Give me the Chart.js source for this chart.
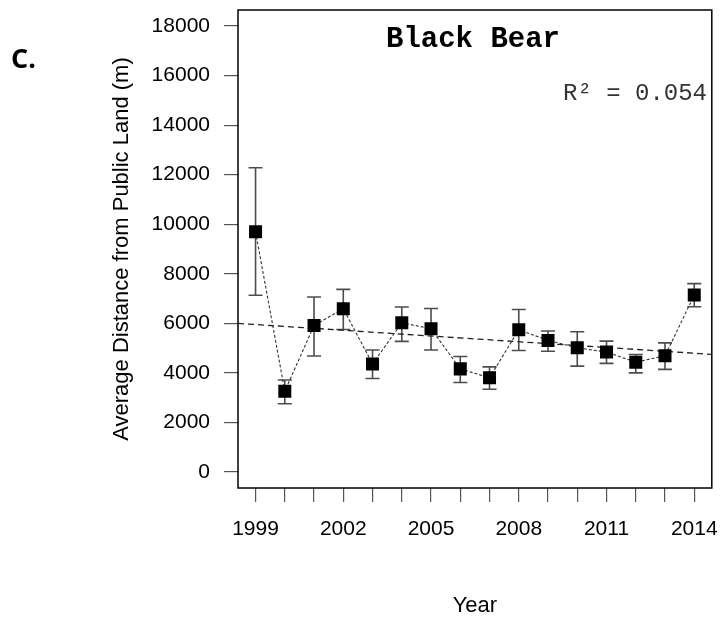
<!DOCTYPE html>
<html>
<head>
<meta charset="utf-8">
<script src="https://cdn.jsdelivr.net/npm/chart.js@4"></script>
<style>
  html, body { margin: 0; padding: 0; background: #fff; }
  #wrap { width: 721px; height: 622px; }
</style>
</head>
<body>
<div id="wrap"><canvas id="chart" width="721" height="622"></canvas></div>
<script>
// data
const years = [1999, 2000, 2001, 2002, 2003, 2004, 2005, 2006, 2007, 2008, 2009, 2010, 2011, 2012, 2013, 2014];
const meanDist = [9700, 3260, 5910, 6590, 4360, 6020, 5780, 4160, 3800, 5740, 5310, 5010, 4840, 4430, 4690, 7140];
const errLow  = [7130, 2750, 4680, 5750, 3770, 5270, 4920, 3610, 3340, 4900, 4870, 4270, 4380, 4000, 4140, 6670];
const errHigh = [12280, 3710, 7060, 7370, 4920, 6660, 6600, 4660, 4240, 6560, 5690, 5660, 5280, 4740, 5210, 7600];
// fitted trend line, ends at the plot edges
const trendYears = [1998.4, 2014.6];
const trendVals = [5996, 4745];
const yTicks = [0, 2000, 4000, 6000, 8000, 10000, 12000, 14000, 16000, 18000];
const labelYears = [1999, 2002, 2005, 2008, 2011, 2014];

const sans = "'Liberation Sans', Arial, sans-serif";
const mono = "'Liberation Mono', 'Courier New', monospace";

// error bars under the markers, box around the plot, and the loose text
const extras = {
	id: 'extras',
	beforeDatasetsDraw(chart) {
		const ctx = chart.ctx, xs = chart.scales.x, ys = chart.scales.y;
		ctx.save();
		ctx.strokeStyle = '#4d4d4d';
		ctx.lineWidth = 1.6;
		years.forEach((yr, i) => {
			const px = xs.getPixelForValue(yr);
			const lo = ys.getPixelForValue(errLow[i]);
			const hi = ys.getPixelForValue(errHigh[i]);
			ctx.beginPath();
			ctx.moveTo(px, lo); ctx.lineTo(px, hi);
			ctx.moveTo(px - 7, lo); ctx.lineTo(px + 7, lo);
			ctx.moveTo(px - 7, hi); ctx.lineTo(px + 7, hi);
			ctx.stroke();
		});
		ctx.restore();
	},
	afterDraw(chart) {
		const ctx = chart.ctx, a = chart.chartArea;
		ctx.save();
		ctx.strokeStyle = '#000';
		ctx.lineWidth = 1.5;
		ctx.strokeRect(a.left, a.top, a.right - a.left, a.bottom - a.top);

		ctx.fillStyle = '#000';
		ctx.textBaseline = 'alphabetic';
		ctx.font = "bold 29px " + mono;
		ctx.textAlign = 'center';
		ctx.fillText('Black Bear', 473, 47);

		ctx.font = "24px " + mono;
		ctx.textAlign = 'right';
		ctx.fillStyle = '#333';
		ctx.fillText('R\u00B2 = 0.054', 707, 100);

		ctx.font = "bold 27px 'Open Sans', " + sans;
		ctx.textAlign = 'left';
		ctx.fillStyle = '#000';
		ctx.fillText('C.', 11, 68);
		ctx.restore();
	}
};

// keep the plot box where the figure has it, whatever the labels want
function noPad(s) {
	s.paddingTop = 0; s.paddingBottom = 0;
	s.paddingLeft = 0; s.paddingRight = 0;
}

function chartBear() {
	const points = years.map((yr, i) => ({ x: yr, y: meanDist[i] }));
	const trend = trendYears.map((yr, i) => ({ x: yr, y: trendVals[i] }));

	const args = {
		type: 'scatter',
		data: {
			datasets: [
				{
					label: 'Trend',
					data: trend,
					showLine: true,
					borderColor: '#222',
					borderWidth: 1.3,
					borderDash: [6, 4],
					pointRadius: 0,
					order: 2
				},
				{
					label: 'Black Bear',
					data: points,
					showLine: true,
					borderColor: '#333',
					borderWidth: 1.1,
					borderDash: [3, 2],
					pointStyle: 'rect',
					pointRadius: 9.2,
					pointBorderWidth: 0,
					pointBackgroundColor: '#000',
					order: 1
				}
			]
		},
		options: {
			responsive: false,
			animation: false,
			layout: { padding: { top: 10, right: 8, left: 0, bottom: 0 } },
			plugins: {
				legend: { display: false },
				tooltip: { enabled: false }
			},
			scales: {
				x: {
					type: 'linear',
					min: 1998.4,
					max: 2014.6,
					afterBuildTicks: s => { s.ticks = years.map(v => ({ value: v })); },
					afterFit: s => { s.height = 134; noPad(s); },
					grid: { drawOnChartArea: false, tickLength: 14, color: '#555', lineWidth: 1.2 },
					border: { display: false },
					ticks: {
						autoSkip: false,
						maxRotation: 0,
						padding: 15,
						color: '#000',
						font: { family: sans, size: 21 },
						callback: v => labelYears.includes(v) ? String(v) : ''
					},
					title: {
						display: true,
						text: 'Year',
						color: '#000',
						font: { family: sans, size: 22 },
						padding: { top: 0, bottom: 3 }
					}
				},
				y: {
					min: -650,
					max: 18650,
					afterBuildTicks: s => { s.ticks = yTicks.map(v => ({ value: v })); },
					afterFit: s => { s.width = 238; noPad(s); },
					grid: { drawOnChartArea: false, tickLength: 14, color: '#555', lineWidth: 1.2 },
					border: { display: false },
					ticks: {
						padding: 14,
						color: '#000',
						font: { family: sans, size: 21 },
						callback: v => String(v)
					},
					title: {
						display: true,
						text: 'Average Distance from Public Land (m)',
						color: '#000',
						font: { family: sans, size: 22 },
						padding: { top: 109, bottom: 0 }
					}
				}
			}
		},
		plugins: [extras]
	};
	return new Chart(document.getElementById('chart'), args);
}

chartBear();
</script>
</body>
</html>
